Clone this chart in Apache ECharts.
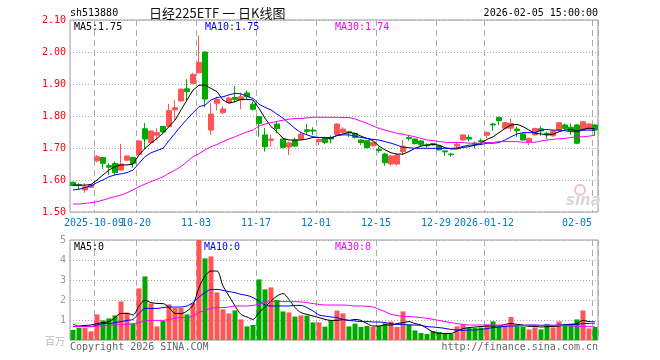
<!DOCTYPE html>
<html><head><meta charset="utf-8">
<script src="https://cdn.jsdelivr.net/npm/echarts@6/dist/echarts.min.js"></script>
<style>html,body{margin:0;padding:0;background:#fff}#c{width:660px;height:360px}</style>
</head><body><div id="c"></div>
<script>
const dates = [
'2025-09-25','2025-09-26','2025-09-29','2025-09-30',
'2025-10-09','2025-10-10','2025-10-13','2025-10-14','2025-10-15','2025-10-16','2025-10-17',
'2025-10-20','2025-10-21','2025-10-22','2025-10-23','2025-10-24',
'2025-10-27','2025-10-28','2025-10-29','2025-10-30','2025-10-31',
'2025-11-03','2025-11-04','2025-11-05','2025-11-06','2025-11-07',
'2025-11-10','2025-11-11','2025-11-12','2025-11-13','2025-11-14',
'2025-11-17','2025-11-18','2025-11-19','2025-11-20','2025-11-21',
'2025-11-24','2025-11-25','2025-11-26','2025-11-27','2025-11-28',
'2025-12-01','2025-12-02','2025-12-03','2025-12-04','2025-12-05',
'2025-12-08','2025-12-09','2025-12-10','2025-12-11','2025-12-12',
'2025-12-15','2025-12-16','2025-12-17','2025-12-18','2025-12-19',
'2025-12-22','2025-12-23','2025-12-24','2025-12-25','2025-12-26',
'2025-12-29','2025-12-30','2025-12-31',
'2026-01-05','2026-01-06','2026-01-07','2026-01-08','2026-01-09',
'2026-01-12','2026-01-13','2026-01-14','2026-01-15','2026-01-16',
'2026-01-19','2026-01-20','2026-01-21','2026-01-22','2026-01-23',
'2026-01-26','2026-01-27','2026-01-28','2026-01-29','2026-01-30',
'2026-02-02','2026-02-03','2026-02-04','2026-02-05'];

const opens = [1.593,1.585,1.569,1.577,1.660,1.670,1.645,1.652,1.631,1.662,1.670,1.680,1.760,1.717,1.740,1.767,1.767,1.819,1.847,1.885,1.902,
1.935,2.000,1.756,1.840,1.810,1.842,1.858,1.850,1.872,1.837,1.798,1.741,1.724,1.775,1.728,1.703,1.725,1.727,1.757,1.756,
1.720,1.730,1.733,1.741,1.749,1.751,1.745,1.725,1.723,1.707,1.696,1.681,1.650,1.650,1.689,1.733,1.728,1.722,1.710,1.714,1.707,1.691,1.681,
1.706,1.725,1.733,1.715,1.723,1.740,1.775,1.795,1.762,1.762,1.759,1.744,1.719,1.741,1.760,1.746,1.738,1.756,1.772,1.765,1.772,1.756,1.760,1.772];
const closes = [1.583,1.583,1.579,1.584,1.673,1.652,1.640,1.623,1.650,1.675,1.652,1.722,1.728,1.753,1.748,1.750,1.817,1.826,1.884,1.876,1.930,
1.967,1.853,1.806,1.852,1.822,1.856,1.852,1.860,1.860,1.821,1.777,1.704,1.728,1.761,1.702,1.716,1.706,1.743,1.752,1.753,
1.727,1.717,1.728,1.775,1.759,1.748,1.733,1.717,1.701,1.718,1.692,1.654,1.675,1.678,1.706,1.730,1.714,1.710,1.707,1.710,1.694,1.688,1.679,
1.712,1.741,1.728,1.712,1.720,1.748,1.772,1.785,1.779,1.777,1.754,1.725,1.730,1.761,1.753,1.741,1.753,1.779,1.761,1.754,1.715,1.782,1.775,1.756];
const lows = [1.581,1.569,1.560,1.575,1.655,1.634,1.616,1.616,1.629,1.660,1.638,1.678,1.696,1.715,1.725,1.748,1.765,1.788,1.845,1.850,1.899,
1.933,1.827,1.741,1.817,1.806,1.840,1.842,1.821,1.853,1.817,1.735,1.689,1.704,1.746,1.699,1.678,1.704,1.725,1.741,1.741,
1.709,1.712,1.715,1.738,1.746,1.735,1.730,1.709,1.699,1.704,1.685,1.645,1.645,1.645,1.678,1.723,1.711,1.706,1.701,1.708,1.692,1.675,1.673,
1.699,1.723,1.720,1.699,1.713,1.730,1.754,1.772,1.758,1.751,1.735,1.723,1.709,1.739,1.738,1.728,1.735,1.754,1.756,1.741,1.712,1.754,1.758,1.738];
const highs = [1.595,1.590,1.590,1.588,1.678,1.672,1.652,1.658,1.713,1.677,1.673,1.725,1.778,1.756,1.762,1.769,1.838,1.850,1.886,1.915,1.935,
2.052,2.002,1.840,1.860,1.831,1.860,1.894,1.873,1.879,1.845,1.800,1.762,1.741,1.782,1.730,1.720,1.732,1.749,1.775,1.765,
1.730,1.735,1.739,1.777,1.765,1.754,1.748,1.728,1.725,1.720,1.704,1.685,1.679,1.683,1.725,1.741,1.730,1.725,1.715,1.716,1.709,1.692,1.685,
1.720,1.743,1.741,1.720,1.730,1.752,1.779,1.798,1.781,1.792,1.767,1.746,1.733,1.764,1.769,1.751,1.756,1.781,1.777,1.777,1.775,1.782,1.777,1.775];

const ma5 = [1.584,1.584,1.584,1.586,1.600,1.616,1.631,1.642,1.647,1.647,1.650,1.678,1.699,1.715,1.730,1.746,1.767,1.787,1.819,1.850,1.881,
1.896,1.897,1.886,1.876,1.850,1.840,1.845,1.852,1.852,1.850,1.824,1.793,1.767,1.751,1.730,1.725,1.725,1.725,1.728,1.733,
1.733,1.732,1.731,1.739,1.744,1.748,1.746,1.737,1.730,1.723,1.706,1.694,1.685,1.681,1.681,1.689,1.699,1.706,1.709,1.711,1.709,1.701,1.697,
1.697,1.702,1.704,1.709,1.715,1.727,1.735,1.748,1.761,1.772,1.774,1.767,1.756,1.746,1.744,1.741,1.743,1.751,1.756,1.758,1.753,1.758,1.762,1.760];
const ma10 = [1.569,1.571,1.576,1.582,1.592,1.600,1.610,1.616,1.619,1.623,1.631,1.652,1.673,1.685,1.692,1.699,1.723,1.746,1.769,1.790,1.810,
1.829,1.834,1.850,1.858,1.860,1.866,1.871,1.869,1.862,1.855,1.837,1.827,1.819,1.806,1.793,1.777,1.761,1.748,1.741,1.735,
1.733,1.732,1.732,1.739,1.741,1.741,1.737,1.733,1.730,1.727,1.725,1.720,1.715,1.709,1.702,1.701,1.699,1.699,1.699,1.699,1.699,1.699,1.699,
1.700,1.705,1.709,1.709,1.711,1.715,1.715,1.717,1.725,1.735,1.744,1.748,1.748,1.748,1.756,1.758,1.756,1.756,1.754,1.751,1.751,1.756,1.756,1.755];
const ma30 = [1.525,1.525,1.527,1.529,1.532,1.537,1.543,1.548,1.553,1.560,1.569,1.579,1.587,1.595,1.602,1.610,1.621,1.631,1.642,1.657,1.673,
1.682,1.694,1.704,1.711,1.720,1.728,1.735,1.743,1.750,1.756,1.769,1.775,1.779,1.783,1.787,1.790,1.792,1.792,1.794,1.796,
1.796,1.796,1.796,1.796,1.795,1.795,1.791,1.784,1.777,1.769,1.761,1.756,1.751,1.746,1.743,1.739,1.735,1.730,1.725,1.723,1.720,1.718,1.717,
1.717,1.717,1.715,1.715,1.715,1.717,1.717,1.720,1.720,1.720,1.720,1.718,1.718,1.718,1.722,1.725,1.727,1.729,1.730,1.733,1.735,1.735,1.737,1.740];

const volumes = [0.50,0.60,0.60,0.43,1.28,0.98,1.08,1.23,1.93,1.37,0.82,2.58,3.18,1.83,0.68,0.95,1.78,1.60,1.60,1.28,1.83,
5.20,4.08,4.18,2.38,1.53,1.33,1.48,1.03,0.68,0.75,3.03,2.53,2.63,2.00,1.43,1.38,1.17,1.23,1.22,0.88,
0.88,0.67,0.98,1.47,1.33,0.68,0.82,0.65,0.70,0.65,0.70,0.83,0.92,0.65,1.43,0.77,0.48,0.35,0.30,0.45,0.40,0.32,0.32,
0.68,0.78,0.62,0.60,0.62,0.78,0.93,0.67,0.70,1.15,0.68,0.68,0.53,0.63,0.53,0.78,0.63,0.93,0.80,0.82,1.03,1.48,0.58,0.65];
const volMa5 = [0.78,0.70,0.73,0.75,0.82,0.87,0.92,1.12,1.33,1.33,1.25,1.70,1.98,1.87,1.83,1.82,1.62,1.33,1.32,1.45,1.75,
2.62,3.20,3.45,3.45,2.70,2.20,1.70,1.28,1.15,1.03,1.37,1.65,1.95,2.20,2.32,2.03,1.62,1.37,1.28,1.20,
1.12,1.03,0.98,0.98,1.02,0.98,1.03,0.98,0.82,0.70,0.70,0.75,0.75,0.82,0.87,0.92,0.82,0.75,0.58,0.40,0.33,0.33,0.33,
0.45,0.57,0.62,0.65,0.67,0.70,0.70,0.70,0.78,0.82,0.78,0.75,0.68,0.68,0.65,0.67,0.68,0.70,0.75,0.78,0.82,0.98,0.92,0.92];
const volMa10 = [0.67,0.67,0.67,0.67,0.75,0.82,0.82,0.87,0.92,0.98,1.03,1.32,1.58,1.58,1.58,1.62,1.65,1.65,1.65,1.70,1.87,
2.15,2.37,2.53,2.53,2.48,2.42,2.37,2.28,2.23,2.12,1.95,1.75,1.70,1.70,1.70,1.70,1.73,1.73,1.62,1.45,
1.25,1.20,1.15,1.12,1.03,0.98,0.95,0.92,0.92,0.90,0.90,0.87,0.82,0.78,0.78,0.75,0.75,0.73,0.67,0.65,0.62,0.58,0.53,
0.50,0.48,0.50,0.50,0.53,0.57,0.62,0.65,0.68,0.70,0.70,0.73,0.75,0.75,0.73,0.75,0.73,0.75,0.75,0.77,0.78,0.82,0.83,0.83];
const volMa30 = [0.67,0.67,0.67,0.67,0.70,0.70,0.73,0.75,0.78,0.78,0.82,0.87,0.95,0.98,0.98,0.98,1.03,1.08,1.12,1.12,1.20,
1.37,1.48,1.58,1.62,1.62,1.65,1.70,1.70,1.70,1.73,1.78,1.87,1.92,1.92,1.92,1.92,1.92,1.90,1.87,1.82,
1.78,1.75,1.75,1.75,1.75,1.73,1.70,1.70,1.68,1.65,1.53,1.42,1.28,1.23,1.18,1.17,1.15,1.12,1.08,1.03,0.98,0.92,0.87,
0.82,0.78,0.75,0.75,0.75,0.75,0.75,0.75,0.75,0.73,0.73,0.73,0.73,0.73,0.73,0.73,0.73,0.73,0.73,0.70,0.68,0.68,0.68,0.68];

const tickDates = ['2025-10-09','2025-10-20','2025-11-03','2025-11-17','2025-12-01','2025-12-15','2025-12-29','2026-01-12','2026-02-05'];
const tickLabels = ['2025-10-09','10-20','11-03','11-17','12-01','12-15','12-29','2026-01-12','02-05'];
const legendPrice = ['MA5:1.75','MA10:1.75','MA30:1.74'];
const legendVol = ['MA5:0','MA10:0','MA30:0'];

const RED = '#ff5555', GREEN = '#00a800';
const MONO = '"DejaVu Sans Mono", monospace';
const isTick = (i, v) => tickDates.indexOf(v) >= 0;
const isFirstTick = (i, v) => v === tickDates[0];
const isOtherTick = (i, v) => tickDates.indexOf(v) > 0;

const chart = echarts.init(document.getElementById('c'), null, {renderer: 'canvas'});
const gridLine = {show: true, interval: isTick, lineStyle: {color: '#aaa', width: 1, type: [6, 4]}};
const hLine = {show: true, lineStyle: {color: '#aaa', width: 1, type: [1, 2]}};
const labelBase = {show: true, color: '#0078c8', fontFamily: MONO, fontSize: 10, margin: 6, padding: [0, 6, 0, 0],
  hideOverlap: false, showMinLabel: true, showMaxLabel: true};

function txt(text, x, y, color, opts) {
  return Object.assign({type: 'text', x: x, y: y, silent: true, z: 100,
    style: Object.assign({text: text, fill: color, font: '10px ' + MONO, textVerticalAlign: 'middle', textAlign: 'left'}, opts || {})});
}

chart.setOption({
  animation: false,
  backgroundColor: '#fff',
  grid: [
    {left: 70, top: 20, width: 528, height: 192, show: true, borderColor: '#999', borderWidth: 1, backgroundColor: 'transparent'},
    {left: 70, top: 240, width: 528, height: 100, show: true, borderColor: '#999', borderWidth: 1, backgroundColor: 'transparent'}
  ],
  xAxis: [
    {type: 'category', gridIndex: 0, position: 'bottom', data: dates, boundaryGap: true,
     axisLine: {show: false}, axisTick: {show: false}, splitLine: gridLine,
     axisLabel: Object.assign({}, labelBase, {interval: isOtherTick,
       formatter: v => { const k = tickDates.indexOf(v); return k === tickDates.length - 1 ? '{l|' + tickLabels[k] + '}' : tickLabels[k]; },
       rich: {l: {color: '#0078c8', fontFamily: MONO, fontSize: 10, padding: [0, 30, 0, 0]}}})},
    {type: 'category', gridIndex: 1, data: dates, boundaryGap: true,
     axisLine: {show: false}, axisTick: {show: false}, axisLabel: {show: false}, splitLine: gridLine},
    {type: 'category', gridIndex: 0, position: 'bottom', offset: 0, data: dates, boundaryGap: true,
     axisLine: {show: false}, axisTick: {show: false}, splitLine: {show: false},
     axisLabel: Object.assign({}, labelBase, {interval: isFirstTick,
       formatter: v => tickLabels[tickDates.indexOf(v)] || ''})}
  ],
  yAxis: [
    {type: 'value', gridIndex: 0, min: 1.5, max: 2.1, interval: 0.1, scale: true,
     axisLine: {show: false}, axisTick: {show: false}, splitLine: hLine,
     axisLabel: {color: '#ff0000', fontFamily: MONO, fontSize: 10, margin: 4, formatter: v => v.toFixed(2)}},
    {type: 'value', gridIndex: 1, min: 0, max: 5, interval: 1,
     axisLine: {show: false}, axisTick: {show: false}, splitLine: hLine,
     axisLabel: {color: '#999', fontFamily: MONO, fontSize: 10, margin: 4, formatter: v => v === 0 ? '' : String(v)}}
  ],
  series: [
    {type: 'candlestick', xAxisIndex: 0, yAxisIndex: 0, barWidth: 5,
     data: dates.map((d, i) => [opens[i], closes[i], lows[i], highs[i]]),
     itemStyle: {color: RED, color0: GREEN, borderColor: RED, borderColor0: GREEN, borderWidth: 1}},
    {type: 'line', xAxisIndex: 0, yAxisIndex: 0, data: ma5, symbol: 'none', lineStyle: {color: '#000', width: 1}, z: 5},
    {type: 'line', xAxisIndex: 0, yAxisIndex: 0, data: ma10, symbol: 'none', lineStyle: {color: '#0000ff', width: 1}, z: 5},
    {type: 'line', xAxisIndex: 0, yAxisIndex: 0, data: ma30, symbol: 'none', lineStyle: {color: '#ff00ff', width: 1}, z: 5},
    {type: 'bar', xAxisIndex: 1, yAxisIndex: 1, barWidth: 5, clip: true,
     data: volumes.map((v, i) => ({value: v, itemStyle: {color: closes[i] >= opens[i] ? RED : GREEN}}))},
    {type: 'line', xAxisIndex: 1, yAxisIndex: 1, data: volMa5, symbol: 'none', smooth: 0.3, lineStyle: {color: '#000', width: 1}, z: 5},
    {type: 'line', xAxisIndex: 1, yAxisIndex: 1, data: volMa10, symbol: 'none', smooth: 0.3, lineStyle: {color: '#0000ff', width: 1}, z: 5},
    {type: 'line', xAxisIndex: 1, yAxisIndex: 1, data: volMa30, symbol: 'none', smooth: 0.3, lineStyle: {color: '#ff00ff', width: 1}, z: 5}
  ],
  graphic: [
    txt('sh513880', 70, 13, '#000'),
    txt('日经225ETF 一 日K线图', 149, 13, '#111', {font: '13px "Noto Sans CJK SC"'}),
    txt('2026-02-05 15:00:00', 598, 13, '#000', {textAlign: 'right'}),
    txt(legendPrice[0], 74, 27, '#000'),
    txt(legendPrice[1], 205, 27, '#0000ff'),
    txt(legendPrice[2], 335, 27, '#ff00ff'),
    txt(legendVol[0], 74, 247, '#000'),
    txt(legendVol[1], 204, 247, '#0000ff'),
    txt(legendVol[2], 335, 247, '#ff00ff'),
    txt('百万', 65, 341, '#bbb', {textAlign: 'right', font: '10px "Noto Sans CJK SC"'}),
    txt('Copyright 2026 SINA.COM', 70, 347, '#666'),
    txt('http://finance.sina.com.cn', 598, 347, '#666', {textAlign: 'right'}),
    {type: 'circle', shape: {cx: 580, cy: 190, r: 5}, style: {fill: 'none', stroke: '#f4c0c0', lineWidth: 2}, silent: true},
    txt('sina', 566, 201, '#d8d8d8', {font: 'italic bold 15px "DejaVu Sans"'})
  ]
});
</script>
</body></html>
